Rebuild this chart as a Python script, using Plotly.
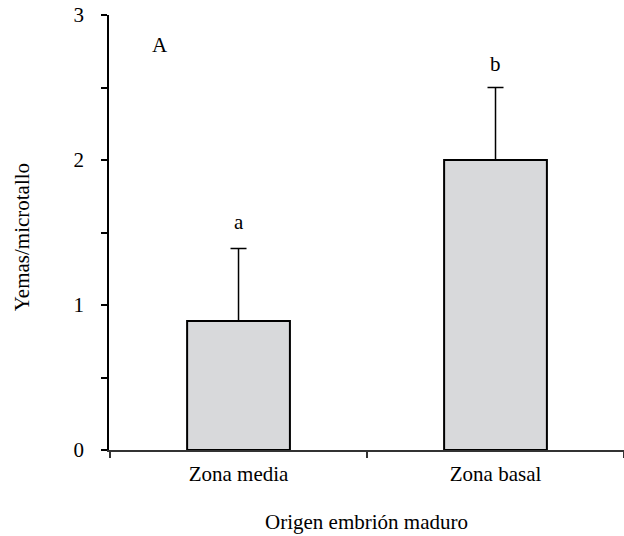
import plotly.graph_objects as go

categories = ["Zona media", "Zona basal"]
values = [0.89, 2.0]
err_plus = [0.5, 0.5]
letters = ["a", "b"]
letter_y = [1.57, 2.66]
panel_label = "A"
y_ticks = [0, 1, 2, 3]

FONT = "Liberation Serif, Times New Roman, DejaVu Serif, serif"

fig = go.Figure()
fig.add_trace(go.Bar(
    x=categories, y=values, width=0.4,
    marker=dict(color="#d8d9db", line=dict(color="black", width=2)),
    error_y=dict(type="data", array=err_plus, arrayminus=[0, 0], symmetric=False,
                 color="black", thickness=1.5, width=8),
    showlegend=False, hoverinfo="skip",
))

for c, t, yy in zip(categories, letters, letter_y):
    fig.add_annotation(x=c, y=yy, text=t, showarrow=False,
                       font=dict(family=FONT, size=21, color="black"))

fig.add_annotation(x=-0.306, y=2.79, xref="x", yref="y", text=panel_label, showarrow=False,
                   font=dict(family=FONT, size=21, color="black"))

fig.add_annotation(x=-0.169, y=0.489, xref="paper", yref="paper", text="Yemas/microtallo",
                   textangle=-90, showarrow=False, xanchor="center",
                   font=dict(family=FONT, size=21, color="black"))

fig.add_annotation(x=0.5, y=-0.198, xref="paper", yref="paper", text="Origen embrión maduro",
                   showarrow=False, font=dict(family=FONT, size=21, color="black"))

fig.update_layout(
    width=624, height=536,
    margin=dict(l=109, r=0, t=15, b=86),
    plot_bgcolor="white", paper_bgcolor="white",
    font=dict(family=FONT, size=21, color="black"),
    xaxis=dict(type="category", range=[-0.504, 1.5], showline=True, linecolor="#333",
               linewidth=1.5, ticks="outside", tickson="boundaries", ticklen=6,
               tickcolor="#333", tickwidth=1.5, showgrid=False, zeroline=False,
               ticklabelstandoff=4),
    yaxis=dict(range=[0, 3], tickvals=y_ticks, showline=True, linecolor="black",
               linewidth=1.5, ticks="outside", ticklen=6, tickwidth=1.5, tickcolor="black",
               showgrid=False, zeroline=False, ticklabelstandoff=13,
               minor=dict(dtick=0.5, tick0=0, ticks="outside", ticklen=6, tickwidth=1.5,
                          tickcolor="black", showgrid=False)),
)

fig.write_html("out.html", config={"displayModeBar": False},
               post_script="document.body.style.margin='0';document.body.style.overflow='hidden';")
